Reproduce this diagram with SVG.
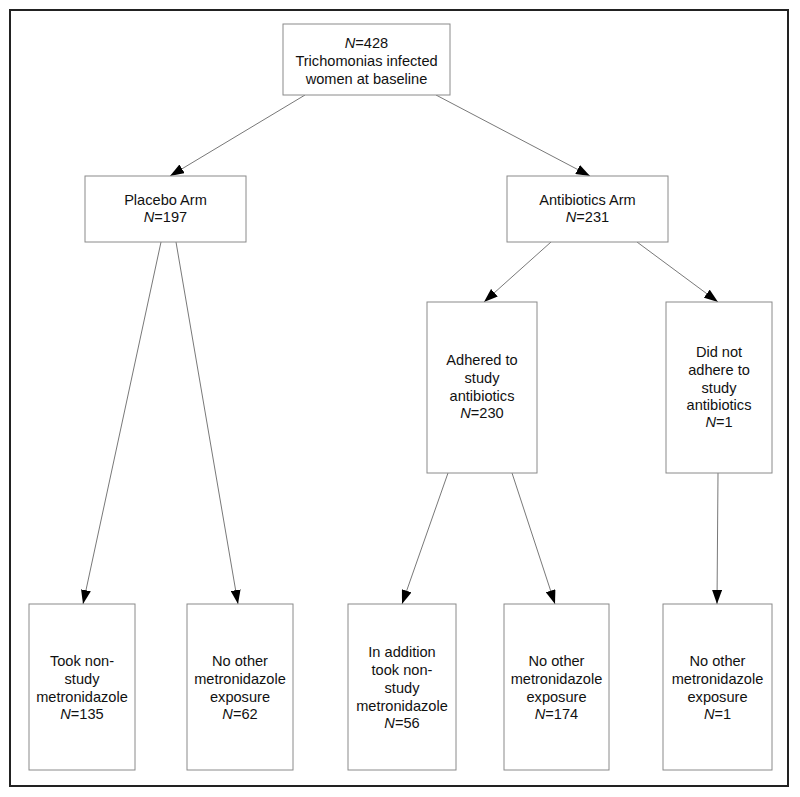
<svg xmlns="http://www.w3.org/2000/svg" width="800" height="797" viewBox="0 0 800 797">
<style>
.box{fill:#fff;stroke:#8a8a8a;stroke-width:1}
.t{font-family:"Liberation Sans",Arial,sans-serif;font-size:14.6px;fill:#111;text-anchor:middle}
.c{stroke:#555;stroke-width:0.8;fill:none;marker-end:url(#ah)}
</style>
<defs>
<marker id="ah" viewBox="0 0 14 10" refX="14" refY="5" markerWidth="14" markerHeight="10" markerUnits="userSpaceOnUse" orient="auto">
<path d="M0,0 L14,5 L0,10 z" fill="#000"/>
</marker>
</defs>
<rect x="0" y="0" width="800" height="797" fill="#fff"/>
<rect x="10" y="10" width="778" height="776" fill="none" stroke="#222" stroke-width="2"/>
<g id="connectors">
<line class="c" x1="305" y1="95" x2="170" y2="176"/>
<line class="c" x1="436" y1="95" x2="590" y2="176"/>
<line class="c" x1="161" y1="242" x2="83" y2="604"/>
<line class="c" x1="176" y1="242" x2="238" y2="604"/>
<line class="c" x1="551" y1="242" x2="484" y2="302"/>
<line class="c" x1="637" y1="242" x2="718" y2="302"/>
<line class="c" x1="448" y1="473" x2="402" y2="604"/>
<line class="c" x1="512" y1="473" x2="555" y2="604"/>
<line class="c" x1="718" y1="473" x2="717" y2="604"/>
</g>
<g id="baseline">
<rect class="box" x="283" y="24" width="167" height="71"/>
<text class="t" x="366.5" y="48"><tspan font-style="italic">N</tspan>=428</text>
<text class="t" x="366.5" y="66">Trichomonias infected</text>
<text class="t" x="366.5" y="84">women at baseline</text>
</g>
<g id="placebo">
<rect class="box" x="85" y="176" width="161" height="66"/>
<text class="t" x="165.5" y="205">Placebo Arm</text>
<text class="t" x="165.5" y="222"><tspan font-style="italic">N</tspan>=197</text>
</g>
<g id="antibiotics">
<rect class="box" x="507" y="176" width="161" height="66"/>
<text class="t" x="587.5" y="205">Antibiotics Arm</text>
<text class="t" x="587.5" y="222"><tspan font-style="italic">N</tspan>=231</text>
</g>
<g id="adhered">
<rect class="box" x="427" y="302" width="110" height="171"/>
<text class="t" x="482" y="365">Adhered to</text>
<text class="t" x="482" y="383">study</text>
<text class="t" x="482" y="401">antibiotics</text>
<text class="t" x="482" y="418"><tspan font-style="italic">N</tspan>=230</text>
</g>
<g id="notadhered">
<rect class="box" x="666" y="302" width="106" height="171"/>
<text class="t" x="719" y="357">Did not</text>
<text class="t" x="719" y="375">adhere to</text>
<text class="t" x="719" y="393">study</text>
<text class="t" x="719" y="410">antibiotics</text>
<text class="t" x="719" y="427"><tspan font-style="italic">N</tspan>=1</text>
</g>
<g id="took">
<rect class="box" x="29" y="604" width="106" height="166"/>
<text class="t" x="82" y="666">Took non-</text>
<text class="t" x="82" y="684">study</text>
<text class="t" x="82" y="702">metronidazole</text>
<text class="t" x="82" y="719"><tspan font-style="italic">N</tspan>=135</text>
</g>
<g id="noother62">
<rect class="box" x="187" y="604" width="106" height="166"/>
<text class="t" x="240" y="666">No other</text>
<text class="t" x="240" y="684">metronidazole</text>
<text class="t" x="240" y="702">exposure</text>
<text class="t" x="240" y="719"><tspan font-style="italic">N</tspan>=62</text>
</g>
<g id="inaddition">
<rect class="box" x="348" y="604" width="108" height="166"/>
<text class="t" x="402" y="657">In addition</text>
<text class="t" x="402" y="675">took non-</text>
<text class="t" x="402" y="693">study</text>
<text class="t" x="402" y="711">metronidazole</text>
<text class="t" x="402" y="728"><tspan font-style="italic">N</tspan>=56</text>
</g>
<g id="noother174">
<rect class="box" x="504" y="604" width="105" height="166"/>
<text class="t" x="556.5" y="666">No other</text>
<text class="t" x="556.5" y="684">metronidazole</text>
<text class="t" x="556.5" y="702">exposure</text>
<text class="t" x="556.5" y="719"><tspan font-style="italic">N</tspan>=174</text>
</g>
<g id="noother1">
<rect class="box" x="663" y="604" width="109" height="166"/>
<text class="t" x="717.5" y="666">No other</text>
<text class="t" x="717.5" y="684">metronidazole</text>
<text class="t" x="717.5" y="702">exposure</text>
<text class="t" x="717.5" y="719"><tspan font-style="italic">N</tspan>=1</text>
</g>
</svg>
